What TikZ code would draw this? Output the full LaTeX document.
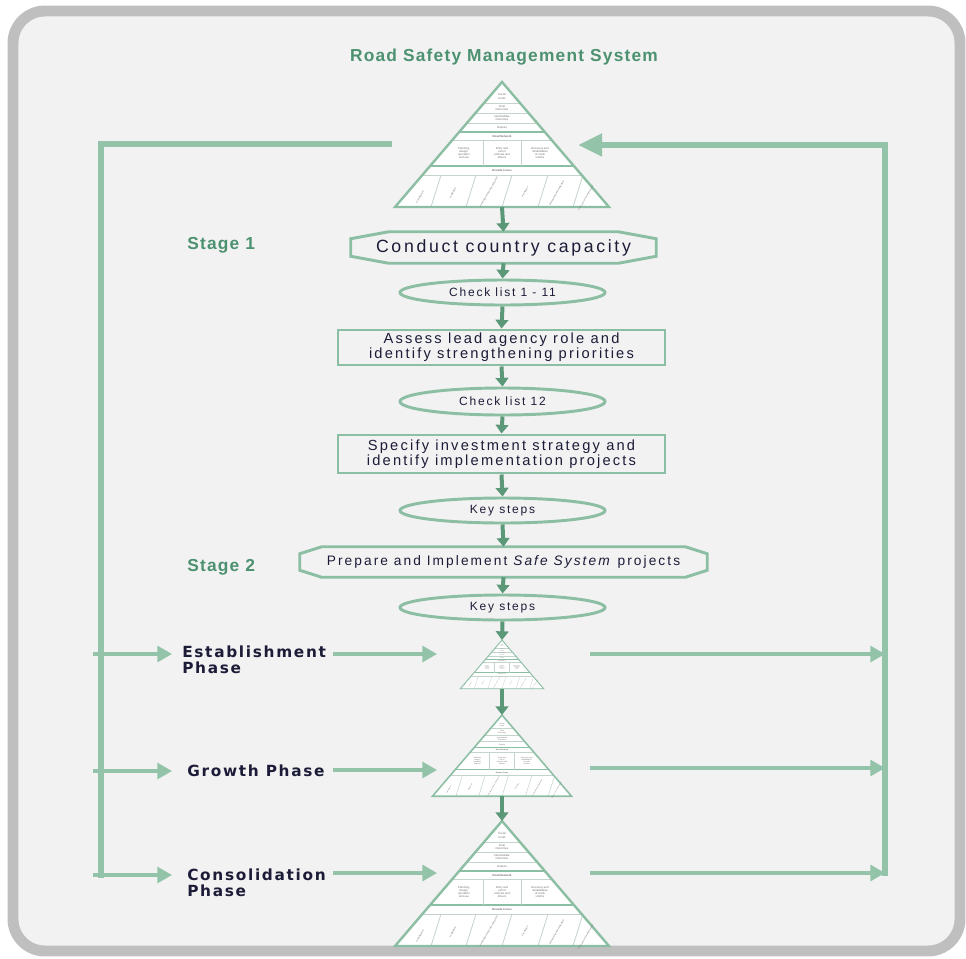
\documentclass[tikz,border=0pt]{standalone}
\usepackage{fontspec}
\setmainfont{Liberation Sans}
\newfontfamily\nodefont[LetterSpace=15]{Liberation Sans}
\newfontfamily\phasefont[LetterSpace=11]{DejaVu Sans}
\newfontfamily\titlefont[LetterSpace=7]{Liberation Sans}
\usetikzlibrary{arrows.meta,shapes.geometric}
\newdimen\px \px=0.75pt
\definecolor{bgfill}{HTML}{F2F2F2}
\definecolor{framegrey}{HTML}{BFBFBF}
\definecolor{boxgreen}{HTML}{8CBEA3}
\definecolor{darkarrow}{HTML}{5A9878}
\definecolor{fbgreen}{HTML}{93C4A9}
\definecolor{titlegreen}{HTML}{4C9170}
\definecolor{inktext}{HTML}{1C1C38}
\definecolor{pyrtext}{HTML}{707070}
\definecolor{pyrline}{HTML}{C4D4CB}
\tikzset{
 boxline/.style={draw=boxgreen, line width=2.2pt},
 plainbox/.style={boxline, rectangle, minimum width=327\px, inner sep=0pt, align=center,
   font=\nodefont\fontsize{11}{11.3}\selectfont, text=inktext},
 ovalbox/.style={boxline, ellipse, minimum width=205\px, minimum height=25\px, inner sep=0pt,
   font=\nodefont\fontsize{9}{10}\selectfont, text=inktext},
 hexlabel/.style={rectangle, inner sep=0pt, text=inktext},
 downarrow/.style={draw=darkarrow, line width=3pt, -{Triangle[width=9.5pt,length=6.5pt]}},
 fbline/.style={draw=fbgreen, line width=4.5pt},
 fbarrow/.style={draw=fbgreen, line width=2.3pt, -{Triangle[width=12pt,length=11pt]}},
 stagelabel/.style={font=\titlefont\bfseries\fontsize{13}{14}\selectfont, text=titlegreen, inner sep=0pt},
 phaselabel/.style={font=\phasefont\bfseries\fontsize{11.5}{11.5}\selectfont, text=inktext, inner sep=0pt, align=left},
 pyrtxt/.style={transform shape, font=\fontsize{2.1}{2.4}\selectfont, text=pyrtext, inner sep=0pt, align=center},
 pyrrot/.style={pyrtxt, rotate=60, font=\fontsize{1.8}{2.1}\selectfont},
}
\newcommand{\rsmpyr}[4]{%
\begin{scope}[shift={(#2,#3)}, scale=#4]
 \coordinate (#1-top) at (0,0);
 \coordinate (#1-base) at (0,125);
 \fill[white] (0,0) -- (-107,125) -- (107,125) -- cycle;
 \foreach \yy in {21,31,41,58,93} \draw[pyrline, line width=#4*0.6pt] ({-0.856*\yy},\yy) -- ({0.856*\yy},\yy);
 \foreach \yy in {50,84} \draw[boxgreen, line width=#4*1.4pt] ({-0.856*\yy},\yy) -- ({0.856*\yy},\yy);
 \foreach \xx in {-19,19} \draw[pyrline, line width=#4*0.6pt] (\xx,58) -- (\xx,84);
 \foreach \xx in {-71,-36,0,36,71} \draw[pyrline, line width=#4*0.6pt] (\xx,125) -- (\xx+10,93);
 \draw[boxgreen, line width=#4*1.8pt] (0,0) -- (-107,125) -- (107,125) -- cycle;
 \node[pyrtxt] (#1-a) at (0,14.5) {Social\\Costs};
 \node[pyrtxt] (#1-b) at (0,26) {Final\\Outcomes};
 \node[pyrtxt] (#1-c) at (0,36) {Intermediate\\Outcomes};
 \node[pyrtxt] (#1-d) at (0,46) {Outputs};
 \node[pyrtxt, font=\bfseries\fontsize{2.1}{2.4}\selectfont] (#1-e) at (0,54) {Road Network};
 \node[pyrtxt] (#1-f) at (-38,71) {Planning,\\design,\\operation\\and use};
 \node[pyrtxt] (#1-g) at (0,71) {Entry and\\exit of\\vehicles and\\drivers};
 \node[pyrtxt] (#1-h) at (38,71) {Recovery and\\rehabilitation\\of crash\\victims};
 \node[pyrtxt, font=\bfseries\fontsize{2.1}{2.4}\selectfont] (#1-i) at (0,88.5) {Results Focus};
 \node[pyrrot] (#1-j) at (-82,115) {Coordination};
 \node[pyrrot] (#1-k) at (-49,111) {Legislation};
 \node[pyrrot] (#1-l) at (-13,110) {Funding and resource allocation};
 \node[pyrrot] (#1-m) at (23,110) {Promotion};
 \node[pyrrot] (#1-n) at (55,111) {Monitoring and evaluation};
 \node[pyrrot, font=\fontsize{1.6}{1.9}\selectfont] (#1-o) at (84,116) {R \& D and knowledge transfer};
\end{scope}}
\begin{document}
\begin{tikzpicture}[x=0.75pt,y=-0.75pt]
\useasboundingbox (0,0) rectangle (966,958);
% frame
\draw[framegrey, line width=8.2pt, fill=bgfill, rounded corners=32\px] (13,11) rectangle (960,951);
% title and stage labels
\node[stagelabel] (title) at (504,57) {Road Safety Management System};
\node[stagelabel, anchor=west] (stage1) at (187,245) {Stage 1};
\node[stagelabel, anchor=west] (stage2) at (187,567) {Stage 2};
% pyramids
\rsmpyr{pa}{502}{82}{1}
\rsmpyr{pb}{502}{640}{0.39}
\rsmpyr{pc}{502}{715}{0.65}
\rsmpyr{pd}{502}{821}{1}
% hexagon 1
\node[hexlabel, minimum width=305\px, minimum height=31\px, font=\nodefont\fontsize{13.3}{14}\selectfont] (hex1) at (503.5,247.5) {Conduct country capacity};
\draw[boxline] ([xshift=38\px]hex1.north west) -- ([xshift=-38\px]hex1.north east) -- ([yshift=-7\px]hex1.north east) -- ([yshift=7\px]hex1.south east) -- ([xshift=-38\px]hex1.south east) -- ([xshift=38\px]hex1.south west) -- ([yshift=7\px]hex1.south west) -- ([yshift=-7\px]hex1.north west) -- cycle;
\node[ovalbox] (chk1) at (502.5,292.5) {Check list 1 - 11};
\node[plainbox, minimum height=35\px] (rect1) at (501.5,347.5) {Assess lead agency role and\\identify strengthening priorities};
\node[ovalbox, minimum height=27\px] (chk2) at (502.5,401.5) {Check list 12};
\node[plainbox, minimum height=38\px] (rect2) at (501.5,454) {Specify investment strategy and\\identify implementation projects};
\node[ovalbox] (key1) at (502.5,510.5) {Key steps};
% hexagon 2
\node[hexlabel, minimum width=407\px, minimum height=30\px, font=\nodefont\fontsize{10.3}{11}\selectfont] (hex2) at (503.5,562) {Prepare and Implement \textit{Safe System} projects};
\draw[boxline] ([xshift=22\px]hex2.north west) -- ([xshift=-22\px]hex2.north east) -- ([yshift=-7\px]hex2.north east) -- ([yshift=7\px]hex2.south east) -- ([xshift=-22\px]hex2.south east) -- ([xshift=22\px]hex2.south west) -- ([yshift=7\px]hex2.south west) -- ([yshift=-7\px]hex2.north west) -- cycle;
\node[ovalbox] (key2) at (502.5,607.5) {Key steps};
% main flow arrows
\draw[downarrow] (pa-base) -- (hex1.north);
\draw[downarrow] (hex1.south) -- (chk1.north);
\draw[downarrow] (chk1.south) -- (rect1.north);
\draw[downarrow] (rect1.south) -- (chk2.north);
\draw[downarrow] (chk2.south) -- (rect2.north);
\draw[downarrow] (rect2.south) -- (key1.north);
\draw[downarrow] (key1.south) -- (hex2.north);
\draw[downarrow] (hex2.south) -- (key2.north);
\draw[downarrow] (key2.south) -- (pb-top);
\draw[downarrow] (pb-base) -- (pc-top);
\draw[downarrow] (pc-base) -- (pd-top);
% phase labels
\node[phaselabel, anchor=north west] (est) at (182,646) {Establishment\\Phase};
\node[phaselabel, anchor=base west] (gro) at (187,776) {Growth Phase};
\node[phaselabel, anchor=north west] (con) at (187,869) {Consolidation\\Phase};
% feedback coordinates
\coordinate (lstart) at (392,144);
\coordinate (lcorner) at (101,144);
\coordinate (lbottom) at (101,878);
\coordinate (lb1) at (93,654);
\coordinate (lb2) at (93,771);
\coordinate (lb3) at (93,875);
\coordinate (la1) at (172,654);
\coordinate (la2) at (172,771);
\coordinate (la3) at (172,875);
\coordinate (ma1) at (333,654);
\coordinate (ma2) at (333,770);
\coordinate (ma3) at (333,873);
\coordinate (pbL) at (437,654);
\coordinate (pcL) at (437,770);
\coordinate (pdL) at (437,873);
\coordinate (pbR) at (590,654);
\coordinate (pcR) at (590,768);
\coordinate (pdR) at (590,873);
\coordinate (rb1) at (885,654);
\coordinate (rb2) at (885,768);
\coordinate (rb3) at (885,873);
\coordinate (rbottom) at (885,876);
\coordinate (rtop) at (885,145);
\coordinate (paR) at (578,145);
% left feedback
\draw[fbline] (lstart) -- (lcorner) -- (lbottom);
\draw[fbarrow] (lb1) -- (la1);
\draw[fbarrow] (lb2) -- (la2);
\draw[fbarrow] (lb3) -- (la3);
% label to pyramid
\draw[fbarrow] (ma1) -- (pbL);
\draw[fbarrow] (ma2) -- (pcL);
\draw[fbarrow] (ma3) -- (pdL);
% pyramid to right
\draw[fbarrow] (pbR) -- (rb1);
\draw[fbarrow] (pcR) -- (rb2);
\draw[fbarrow] (pdR) -- (rb3);
% right feedback
\draw[fbline, line join=miter, -{Triangle[width=16pt,length=18pt]}] (rbottom) -- (rtop) -- (paR);
\end{tikzpicture}
\end{document}
